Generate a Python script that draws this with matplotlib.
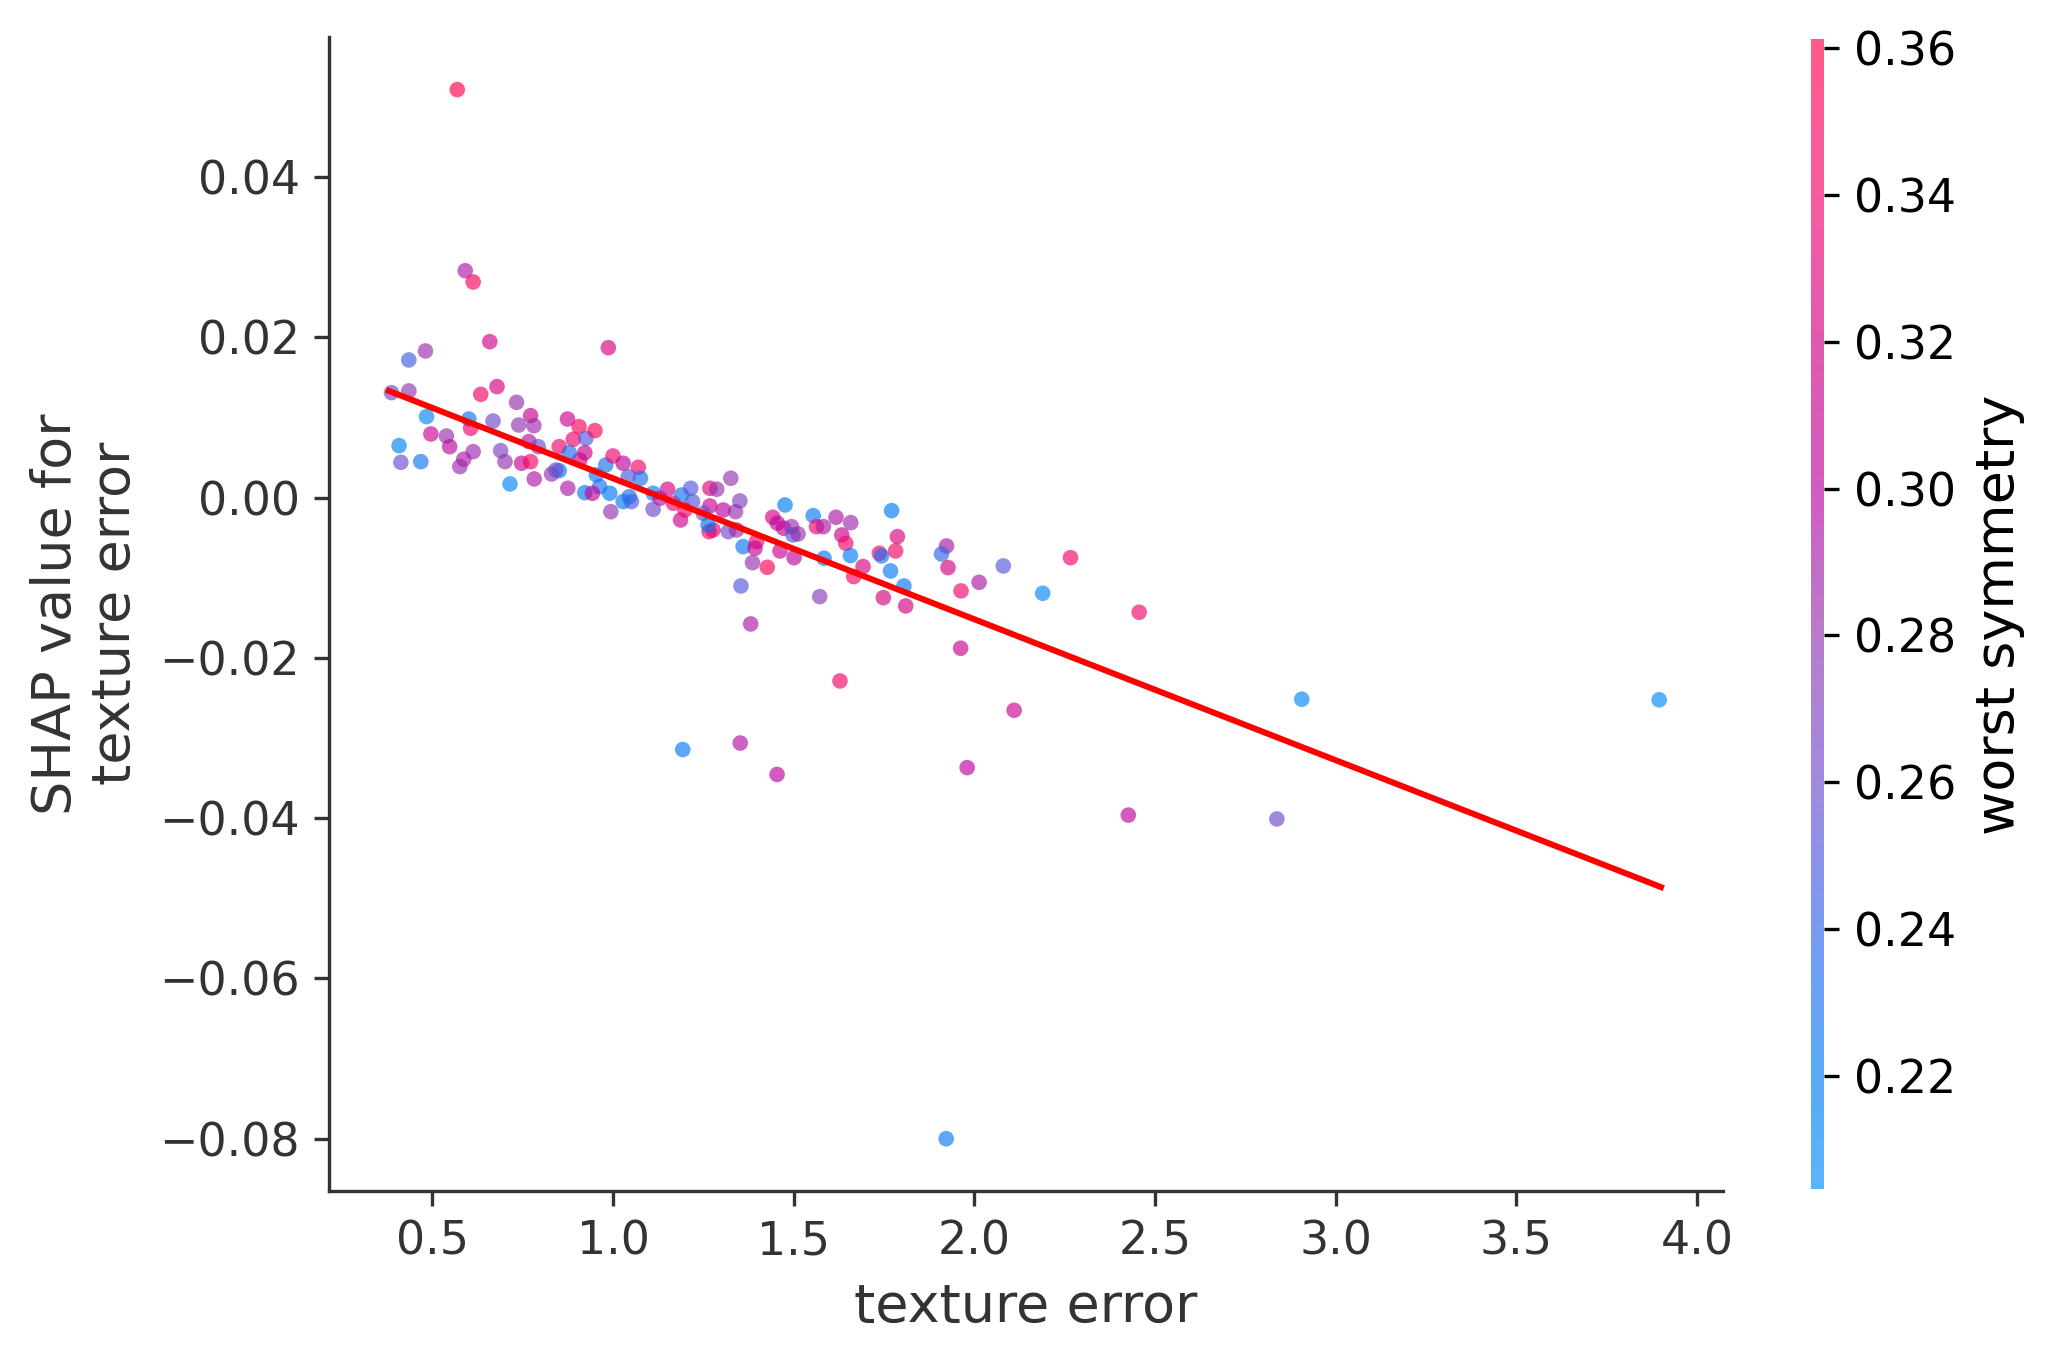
import numpy as np
import matplotlib
matplotlib.use("Agg")
import matplotlib.pyplot as plt
from matplotlib.colors import LinearSegmentedColormap, Normalize
from matplotlib.cm import ScalarMappable

texture_error = [
    0.387, 0.435, 0.481, 0.435, 0.659, 0.987, 0.484, 0.408, 0.413, 0.468,
    0.496, 0.539, 0.548, 0.601, 0.606, 0.634, 0.679, 0.668, 0.613, 0.587,
    0.576, 0.689, 0.701, 0.715, 0.733, 0.739, 0.772, 0.781, 0.767, 0.793,
    0.747, 0.772, 0.782, 0.830, 0.851, 0.842, 0.875, 0.874, 0.851, 0.906,
    0.890, 0.925, 0.950, 0.922, 0.908, 0.879, 0.980, 1.000, 1.028, 1.070,
    1.076, 1.042, 0.954, 0.963, 0.991, 0.922, 0.943, 0.994, 1.028, 1.051,
    1.045, 1.111, 1.111, 1.151, 1.130, 1.167, 1.187, 1.190, 1.215, 1.220,
    1.199, 1.268, 1.287, 1.326, 1.268, 1.250, 1.305, 1.351, 1.339, 1.266,
    1.277, 1.263, 1.319, 1.342, 1.360, 1.397, 1.393, 1.386, 1.427, 1.354,
    1.381, 1.442, 1.476, 1.455, 1.472, 1.494, 1.498, 1.512, 1.462, 1.501,
    1.554, 1.563, 0.569, 0.591, 0.613,
    1.582, 1.617, 1.658, 1.633, 1.644, 1.584, 1.657, 1.692, 1.666, 1.572,
    1.771, 1.787, 1.782, 1.737, 1.743, 1.768, 1.805, 1.748, 1.810, 1.923,
    1.909, 1.927, 1.963, 2.013, 2.080, 2.189, 2.266, 2.456, 1.962, 1.628,
    2.906, 2.837, 3.895, 1.193, 1.352, 1.454, 1.980, 2.110, 2.426, 1.922,
]

shap_value = [
    0.01309, 0.01717, 0.01829, 0.01330, 0.01945, 0.01870, 0.01010, 0.00648, 0.00440, 0.00448,
    0.00793, 0.00768, 0.00635, 0.00980, 0.00864, 0.01288, 0.01384, 0.00955, 0.00573, 0.00478,
    0.00386, 0.00585, 0.00448, 0.00170, 0.01188, 0.00905, 0.01022, 0.00897, 0.00698, 0.00635,
    0.00428, 0.00448, 0.00232, 0.00294, 0.00336, 0.00344, 0.00116, 0.00980, 0.00635, 0.00885,
    0.00727, 0.00740, 0.00835, 0.00560, 0.00469, 0.00560, 0.00407, 0.00519, 0.00428, 0.00378,
    0.00241, 0.00261, 0.00282, 0.00136, 0.00054, 0.00061, 0.00054, -0.00176, -0.00050, -0.00050,
    0.00011, 0.00054, -0.00146, 0.00104, -0.00009, -0.00071, -0.00280, 0.00032, 0.00116, -0.00050,
    -0.00155, 0.00116, 0.00104, 0.00241, -0.00105, -0.00196, -0.00155, -0.00042, -0.00176, -0.00425,
    -0.00404, -0.00342, -0.00425, -0.00404, -0.00612, -0.00550, -0.00633, -0.00812, -0.00870, -0.01103,
    -0.01577, -0.00246, -0.00092, -0.00320, -0.00383, -0.00363, -0.00466, -0.00454, -0.00666, -0.00750,
    -0.00226, -0.00363, 0.05090, 0.02830, 0.02690,
    -0.00363, -0.00246, -0.00313, -0.00466, -0.00570, -0.00757, -0.00724, -0.00861, -0.00986, -0.01236,
    -0.00163, -0.00487, -0.00666, -0.00695, -0.00728, -0.00916, -0.01103, -0.01249, -0.01352, -0.00604,
    -0.00704, -0.00874, -0.01165, -0.01057, -0.00853, -0.01194, -0.00750, -0.01431, -0.01880, -0.02288,
    -0.02516, -0.04010, -0.02523, -0.03144, -0.03063, -0.03455, -0.03370, -0.02654, -0.03962, -0.08000,
]

worst_symmetry = [
    0.262, 0.245, 0.283, 0.280, 0.318, 0.322, 0.212, 0.214, 0.258, 0.228,
    0.312, 0.282, 0.298, 0.222, 0.342, 0.338, 0.322, 0.262, 0.284, 0.292,
    0.284, 0.268, 0.282, 0.212, 0.282, 0.280, 0.312, 0.284, 0.292, 0.258,
    0.312, 0.345, 0.292, 0.284, 0.222, 0.262, 0.292, 0.312, 0.342, 0.352,
    0.342, 0.250, 0.352, 0.310, 0.322, 0.232, 0.230, 0.340, 0.300, 0.340,
    0.230, 0.250, 0.230, 0.232, 0.220, 0.222, 0.310, 0.280, 0.222, 0.250,
    0.235, 0.222, 0.262, 0.322, 0.292, 0.340, 0.312, 0.230, 0.250, 0.250,
    0.342, 0.330, 0.282, 0.280, 0.312, 0.262, 0.300, 0.270, 0.284, 0.352,
    0.330, 0.222, 0.262, 0.284, 0.222, 0.342, 0.310, 0.282, 0.352, 0.252,
    0.292, 0.322, 0.220, 0.300, 0.312, 0.282, 0.250, 0.284, 0.312, 0.300,
    0.222, 0.342, 0.360, 0.292, 0.350,
    0.292, 0.292, 0.284, 0.312, 0.342, 0.222, 0.222, 0.325, 0.345, 0.272,
    0.220, 0.325, 0.345, 0.340, 0.232, 0.222, 0.222, 0.322, 0.322, 0.292,
    0.240, 0.322, 0.342, 0.292, 0.252, 0.212, 0.342, 0.342, 0.310, 0.342,
    0.210, 0.262, 0.210, 0.222, 0.295, 0.300, 0.300, 0.312, 0.302, 0.222,
]

fit_x = [0.38, 3.90]
fit_y = [0.0133, -0.0486]

color_min, color_max = 0.2045, 0.3612
colorbar_ticks = [0.22, 0.24, 0.26, 0.28, 0.30, 0.32, 0.34, 0.36]

# colormap (un-blended) approximating SHAP red_blue
anchors = [
    (0.00, (0 / 255, 140 / 255, 255 / 255)),
    (0.10, (0 / 255, 122 / 255, 244 / 255)),
    (0.23, (50 / 255, 100 / 255, 232 / 255)),
    (0.35, (109 / 255, 75 / 255, 207 / 255)),
    (0.48, (144 / 255, 54 / 255, 175 / 255)),
    (0.61, (187 / 255, 3 / 255, 158 / 255)),
    (0.73, (207 / 255, 1 / 255, 134 / 255)),
    (0.86, (240 / 255, 4 / 255, 109 / 255)),
    (1.00, (255 / 255, 1 / 255, 75 / 255)),
]
ALPHA = 0.65
cmap = LinearSegmentedColormap.from_list("shap_rb", anchors)
blended = [(p, tuple(ALPHA * np.array(c) + (1 - ALPHA))) for p, c in anchors]
cmap_bar = LinearSegmentedColormap.from_list("shap_rb_bar", blended)

DPI = 300
fig = plt.figure(figsize=(2055 / DPI, 1365 / DPI), dpi=DPI)
ax = fig.add_axes([0.160, 0.1276, 0.6786, 0.8455])
axis_color = "#333333"

norm = Normalize(vmin=color_min, vmax=color_max)
ax.scatter(texture_error, shap_value, c=worst_symmetry, cmap=cmap, norm=norm,
           s=14, alpha=ALPHA, linewidths=0, zorder=2)
ax.plot(fit_x, fit_y, color="red", lw=1.45, zorder=3)

ax.set_xlim(0.2135, 4.0725)
ax.set_ylim(-0.0865, 0.0575)
ax.set_xticks([0.5, 1.0, 1.5, 2.0, 2.5, 3.0, 3.5, 4.0])
ax.set_yticks([-0.08, -0.06, -0.04, -0.02, 0.0, 0.02, 0.04])
ax.set_yticklabels(["\u22120.08", "\u22120.06", "\u22120.04", "\u22120.02", "0.00", "0.02", "0.04"])

ax.spines["top"].set_visible(False)
ax.spines["right"].set_visible(False)
ax.spines["left"].set_color(axis_color)
ax.spines["bottom"].set_color(axis_color)
ax.tick_params(color=axis_color, labelcolor=axis_color, labelsize=11)
ax.set_xlabel("texture error", fontsize=13, color=axis_color)
ax.set_ylabel("SHAP value for\ntexture error", fontsize=13, color=axis_color)

cax = fig.add_axes([0.8814, 0.1286, 0.0064, 0.8426])
sm = ScalarMappable(norm=norm, cmap=cmap_bar)
cb = fig.colorbar(sm, cax=cax, ticks=colorbar_ticks)
cb.outline.set_visible(False)
cb.ax.set_yticklabels([f"{t:.2f}" for t in colorbar_ticks])
cb.ax.tick_params(labelsize=11, length=3.5)
cb.set_label("worst symmetry", size=13)

fig.savefig("out.png", dpi=DPI)
